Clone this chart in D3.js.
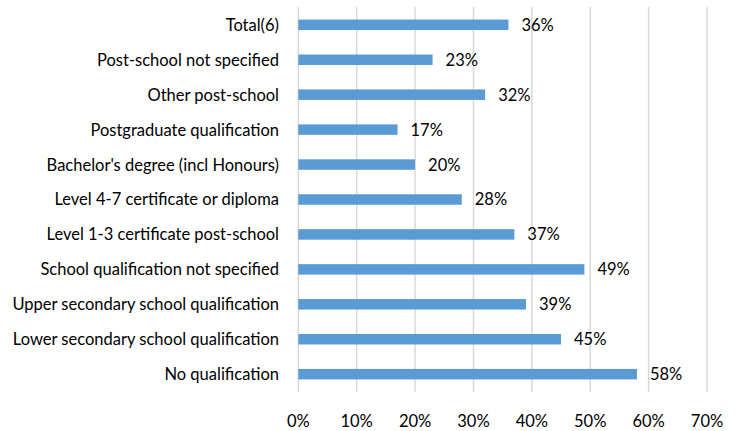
<!DOCTYPE html>
<html>
<head>
<meta charset="utf-8">
<script src="https://cdn.jsdelivr.net/npm/d3@7"></script>
<style>
  html, body { margin: 0; padding: 0; background: #fff; }
  svg text { font-family: Lato, "Open Sans", sans-serif; fill: #000; }
</style>
</head>
<body>
<svg id="chart" width="736" height="431"></svg>
<script>
// Qualification categories, top to bottom
const categories = [
  "Total(6)",
  "Post-school not specified",
  "Other post-school",
  "Postgraduate qualification",
  "Bachelor's degree (incl Honours)",
  "Level 4-7 certificate or diploma",
  "Level 1-3 certificate post-school",
  "School qualification not specified",
  "Upper secondary school qualification",
  "Lower secondary school qualification",
  "No qualification"
];
// Share for each category (percent)
const values = [36, 23, 32, 17, 20, 28, 37, 49, 39, 45, 58];
// Axis ticks (percent)
const ticks = [0, 10, 20, 30, 40, 50, 60, 70];

const svg = d3.select("#chart");
const plot = { left: 298.3, right: 707, top: 7, bottom: 392 };

const x = d3.scaleLinear().domain([0, 70]).range([plot.left, plot.right]);
const y = d3.scaleBand().domain(categories).range([plot.top, plot.bottom]).paddingInner(0.7).paddingOuter(0.36);

// vertical gridlines
svg.append("g").selectAll("line").data(ticks).join("line")
  .attr("x1", d => x(d)).attr("x2", d => x(d))
  .attr("y1", plot.top).attr("y2", plot.bottom)
  .attr("stroke", "#d9d9d9").attr("stroke-width", 1.5);

// bars
svg.append("g").selectAll("rect").data(values).join("rect")
  .attr("x", x(0))
  .attr("y", (d, i) => y(categories[i]))
  .attr("width", d => x(d) - x(0))
  .attr("height", y.bandwidth())
  .attr("fill", "#5b9bd5");

// value labels
svg.append("g").selectAll("text").data(values).join("text")
  .attr("x", d => x(d) + 13)
  .attr("y", (d, i) => y(categories[i]) + y.bandwidth() / 2)
  .attr("dy", "0.36em")
  .attr("font-size", 16.5)
  .text(d => d + "%");

// category labels
svg.append("g").selectAll("text").data(categories).join("text")
  .attr("x", 279)
  .attr("y", d => y(d) + y.bandwidth() / 2)
  .attr("dy", "0.36em")
  .attr("text-anchor", "end")
  .attr("font-size", 16.5)
  .text(d => d);

// x tick labels
svg.append("g").selectAll("text").data(ticks).join("text")
  .attr("x", d => x(d))
  .attr("y", 427)
  .attr("text-anchor", "middle")
  .attr("font-size", 16.5)
  .text(d => d + "%");
</script>
</body>
</html>
